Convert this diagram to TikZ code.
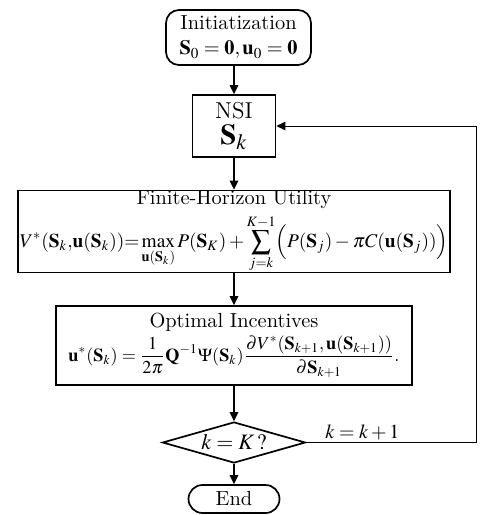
\documentclass[tikz,border=0pt]{standalone}
\usepackage{amsmath}
\usepackage{bm}
\usepackage{mathptmx}
\usepackage{tikz}
\usetikzlibrary{shapes.geometric,arrows.meta}
\tikzstyle{startbox}=[rectangle,rounded corners=6.5pt,draw=black,line width=0.85pt,
                      inner sep=1pt,align=center,font=\fontsize{10.2}{12.5}\selectfont]
\tikzstyle{procbox}=[rectangle,draw=black,line width=0.85pt,
                     inner sep=1pt,align=center,font=\fontsize{10.2}{12.5}\selectfont]
\tikzstyle{decision}=[diamond,aspect=3.5,draw=black,line width=0.85pt,
                      inner sep=0pt,minimum width=71.5pt,minimum height=20.5pt,
                      font=\fontsize{11}{13}\selectfont]
\tikzstyle{flowarrow}=[line width=0.85pt,-{Triangle[length=4.5pt,width=4.2pt]}]

\begin{document}
\begin{tikzpicture}[x=0.5pt,y=-0.5pt]
    \newcommand{\cx}{234}
    \useasboundingbox (0,0) rectangle (479,515);
    \node (init) at (238.5,37.5) [startbox,minimum width=72.5pt,minimum height=27.5pt]
      {Initiatization\\$\mathbf{S}_0=\mathbf{0},\mathbf{u}_0=\mathbf{0}$};
    \node (nsi) at (\cx,126) [procbox,minimum width=41.5pt,minimum height=31pt,
                              font=\fontsize{11.5}{13}\selectfont]
      {NSI\\{\Large$\mathbf{S}_k$}};
    \node (fhu) at (\cx,231.5) [procbox,minimum width=216pt,minimum height=38.5pt,inner sep=0pt]
      {Finite-Horizon Utility\\[2pt]
       {\fontsize{9.7}{11}\selectfont
       $\displaystyle V^*(\mathbf{S}_k{,}\mathbf{u}(\mathbf{S}_k)){=}\max_{\mathbf{u}(\mathbf{S}_k)}P(\mathbf{S}_K)
        +\sum_{j=k}^{K-1}\Bigl(P(\mathbf{S}_j)-\pi C(\mathbf{u}(\mathbf{S}_j))\Bigr)$}};
    \node (opt) at (\cx,345.5) [procbox,minimum width=178pt,minimum height=39.5pt,inner sep=0pt]
      {Optimal Incentives\\[1pt]
       {\fontsize{9.1}{10.5}\selectfont
       $\displaystyle \mathbf{u}^*(\mathbf{S}_k)=\frac{1}{2\pi}\mathbf{Q}^{-1}\Psi(\mathbf{S}_k)
        \frac{\partial V^*(\mathbf{S}_{k+1},\mathbf{u}(\mathbf{S}_{k+1}))}{\partial\mathbf{S}_{k+1}}.$}};
    \node (dec) at (\cx,442.5) [decision]{$k=K\,?$};
    \node (stop) at (\cx,499) [startbox,rounded corners=7pt,minimum width=45.5pt,minimum height=14pt]{End};
    \coordinate (lb) at (476,442.5);
    \coordinate (lt) at (476,126);
    \draw [flowarrow] (init.south -| nsi) -- (nsi);
    \draw [flowarrow] (nsi) -- (fhu);
    \draw [flowarrow] (fhu) -- (opt);
    \draw [flowarrow] (opt) -- (dec);
    \draw [flowarrow] (dec) -- (stop);
    \draw [flowarrow,line width=0.5pt] (dec.east) -- node (inc) [above,pos=0.33,inner sep=1pt]{$k=k+1$}
      (lb) -- (lt) -- (nsi.east);
  \end{tikzpicture}
\end{document}
